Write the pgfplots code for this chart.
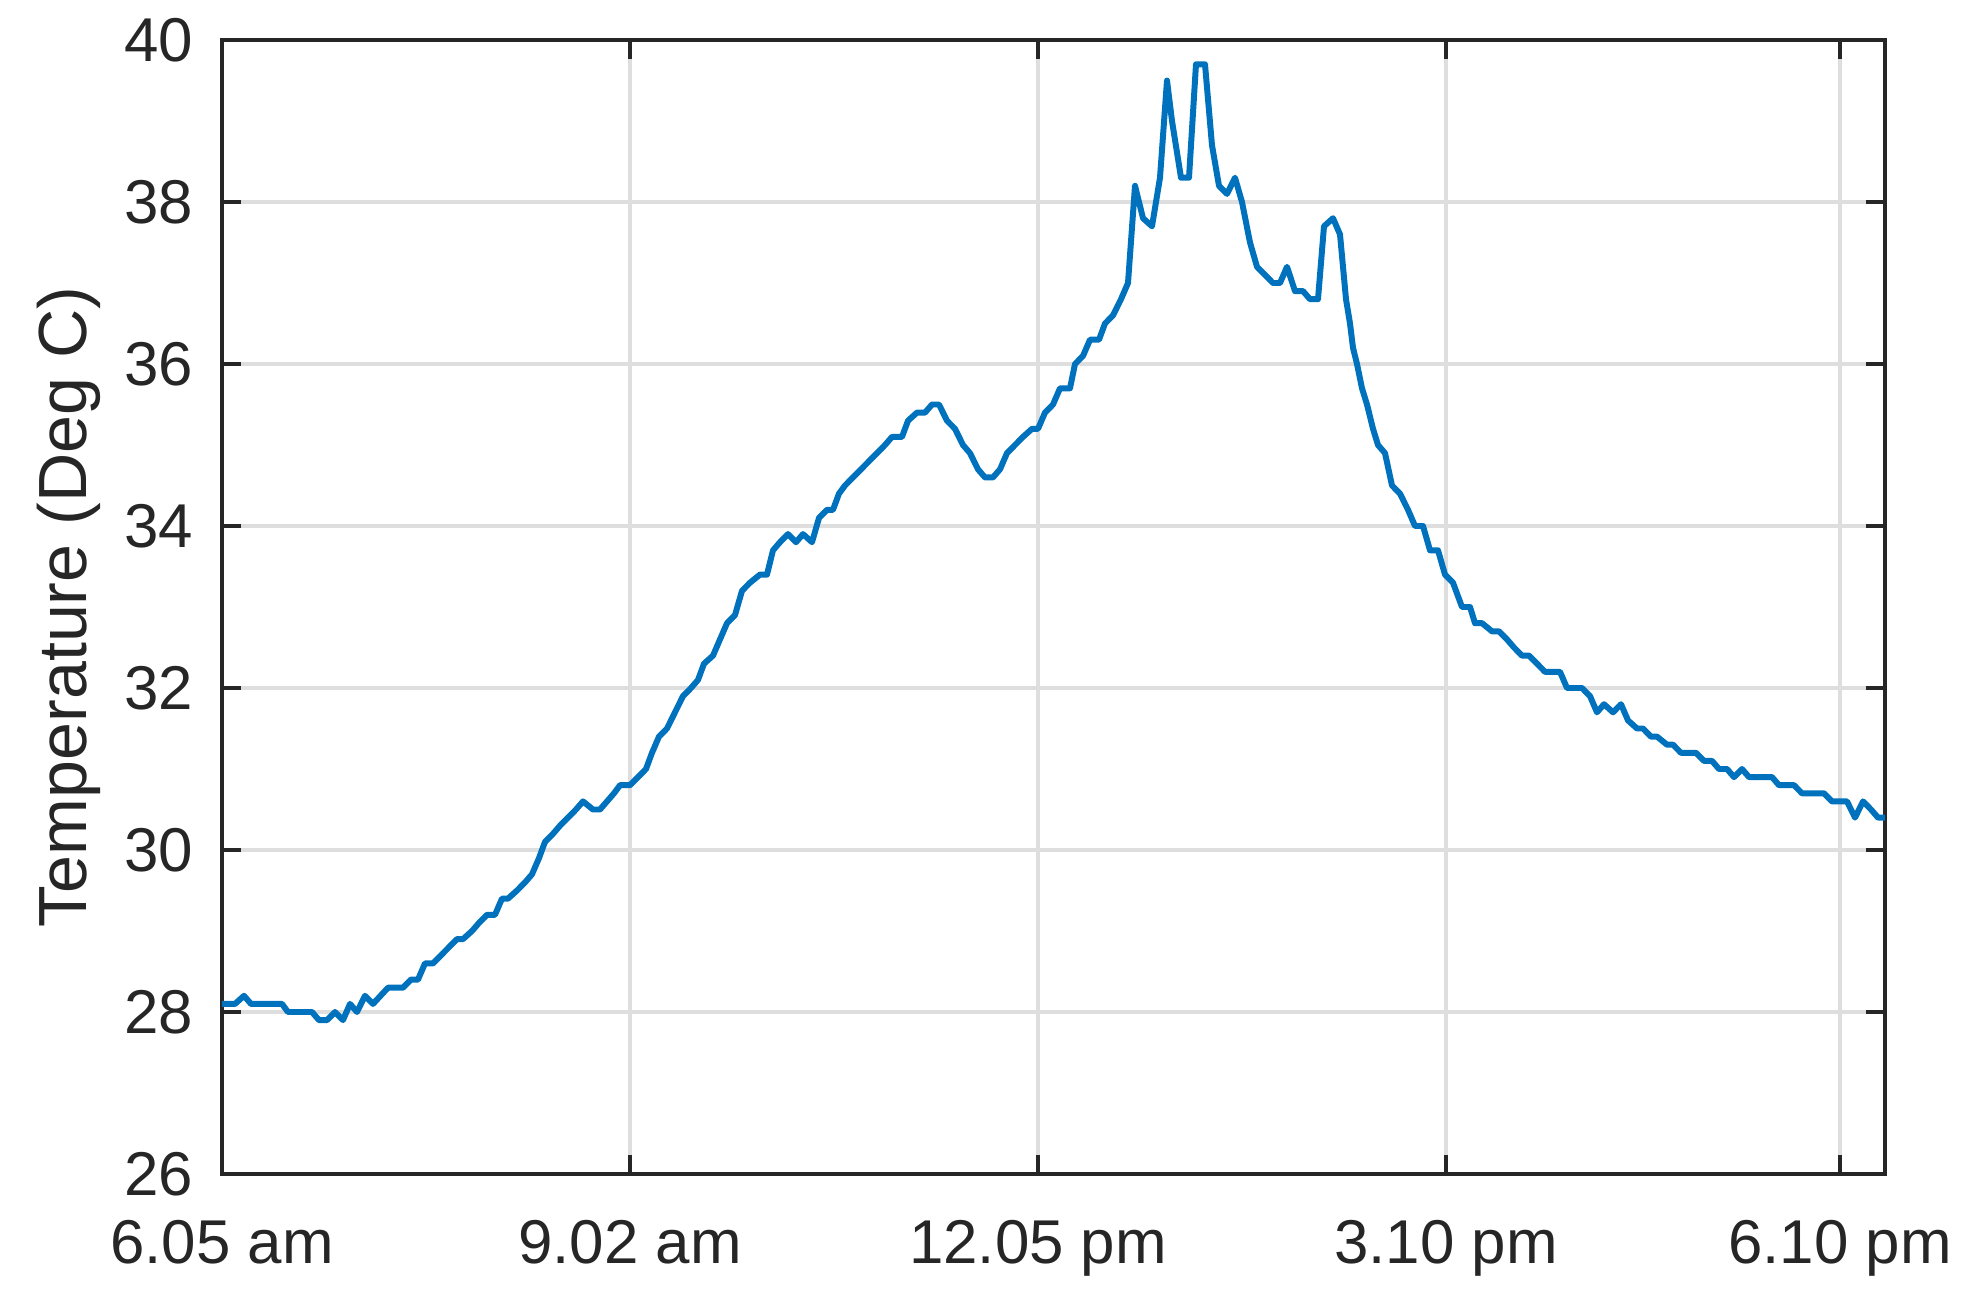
\documentclass[border=0pt]{standalone}
\usepackage{fontspec}
\setmainfont{Liberation Sans}
\usepackage{pgfplots}
\pgfplotsset{compat=1.18}
\usepackage{pgfplotstable}

\definecolor{axisgray}{HTML}{262626}
\definecolor{gridgray}{HTML}{DEDEDE}
\definecolor{mblue}{HTML}{0072BD}

% temperature log, x = position along the axis (sample spacing ~8)
\pgfplotstableread{
x y
0 28.1
13 28.1
22 28.2
29 28.1
60 28.1
66 28.0
90 28.0
97 27.9
105 27.9
113 28.0
121 27.9
128 28.1
135 28.0
143 28.2
151 28.1
166 28.3
181 28.3
189 28.4
196 28.4
203 28.6
211 28.6
219 28.7
227 28.8
235 28.9
241 28.9
250 29.0
257 29.1
265 29.2
273 29.2
280 29.4
286 29.4
295 29.5
303 29.6
310 29.7
317 29.9
323 30.1
331 30.2
338 30.3
346 30.4
354 30.5
361 30.6
371 30.5
378 30.5
385 30.6
392 30.7
398 30.8
408 30.8
416 30.9
424 31.0
430 31.2
437 31.4
445 31.5
453 31.7
461 31.9
469 32.0
476 32.1
482 32.3
491 32.4
498 32.6
505 32.8
513 32.9
520 33.2
528 33.3
538 33.4
545 33.4
551 33.7
558 33.8
566 33.9
574 33.8
581 33.9
590 33.8
597 34.1
605 34.2
611 34.2
617 34.4
623 34.5
631 34.6
639 34.7
647 34.8
655 34.9
663 35.0
670 35.1
680 35.1
686 35.3
695 35.4
703 35.4
710 35.5
717 35.5
725 35.3
733 35.2
741 35.0
748 34.9
756 34.7
763 34.6
771 34.6
778 34.7
785 34.9
793 35.0
801 35.1
810 35.2
816 35.2
823 35.4
831 35.5
838 35.7
848 35.7
853 36.0
861 36.1
868 36.3
877 36.3
883 36.5
891 36.6
899 36.8
906 37.0
913 38.2
921 37.8
930 37.7
938 38.3
945 39.5
950 39.0
959 38.3
967 38.3
974 39.7
983 39.7
990 38.7
997 38.2
1005 38.1
1013 38.3
1020 38.0
1028 37.5
1035 37.2
1043 37.1
1051 37.0
1058 37.0
1065 37.2
1073 36.9
1081 36.9
1088 36.8
1096 36.8
1102 37.7
1111 37.8
1118 37.6
1124 36.8
1128 36.5
1131 36.2
1135 36.0
1140 35.7
1145 35.5
1151 35.2
1156 35.0
1163 34.9
1170 34.5
1178 34.4
1186 34.2
1193 34.0
1201 34.0
1208 33.7
1216 33.7
1223 33.4
1231 33.3
1240 33.0
1248 33.0
1253 32.8
1260 32.8
1270 32.7
1277 32.7
1285 32.6
1292 32.5
1300 32.4
1307 32.4
1315 32.3
1323 32.2
1338 32.2
1345 32.0
1360 32.0
1368 31.9
1375 31.7
1382 31.8
1391 31.7
1399 31.8
1406 31.6
1415 31.5
1421 31.5
1429 31.4
1435 31.4
1445 31.3
1451 31.3
1459 31.2
1474 31.2
1482 31.1
1490 31.1
1497 31.0
1505 31.0
1512 30.9
1520 31.0
1527 30.9
1550 30.9
1557 30.8
1572 30.8
1580 30.7
1602 30.7
1610 30.6
1625 30.6
1633 30.4
1641 30.6
1649 30.5
1656 30.4
1663 30.4
}\templog

\begin{document}
\begin{tikzpicture}
\useasboundingbox (-2.22cm,-1.18cm) rectangle (17.43cm,11.74cm);
\begin{axis}[
  scale only axis,
  width=16.63cm, height=11.34cm,
  xmin=0, xmax=1663,
  ymin=26, ymax=40,
  xtick={0,408,816,1224,1618},
  xticklabels={6.05 am, 9.02 am, 12.05 pm, 3.10 pm, 6.10 pm},
  ytick={26,28,...,40},
  /pgf/number format/assume math mode=true,
  tick align=inside,
  xtick pos=both, ytick pos=both,
  xticklabel pos=lower, yticklabel pos=left,
  major tick length=0.19cm,
  every tick/.style={color=axisgray, line width=1.1pt},
  axis line style={color=axisgray, line width=1.1pt},
  grid=major,
  major grid style={color=gridgray, line width=0.9pt},
  ticklabel style={font=\fontsize{17.6}{20}\selectfont, color=axisgray},
  xticklabel style={anchor=base, inner sep=0pt, yshift=-0.89cm},
  yticklabel style={anchor=east, inner sep=0pt, xshift=-0.28cm},
  ylabel={Temperature (Deg C)},
  every axis y label/.style={at={(axis description cs:-0.0812,0.5)},
    rotate=90, anchor=base, font=\fontsize{19.4}{22}\selectfont, color=axisgray},
]
\addplot[color=mblue, line width=1.7pt, line join=round, no markers] table[x=x, y=y] {\templog};
\end{axis}
\end{tikzpicture}
\end{document}
